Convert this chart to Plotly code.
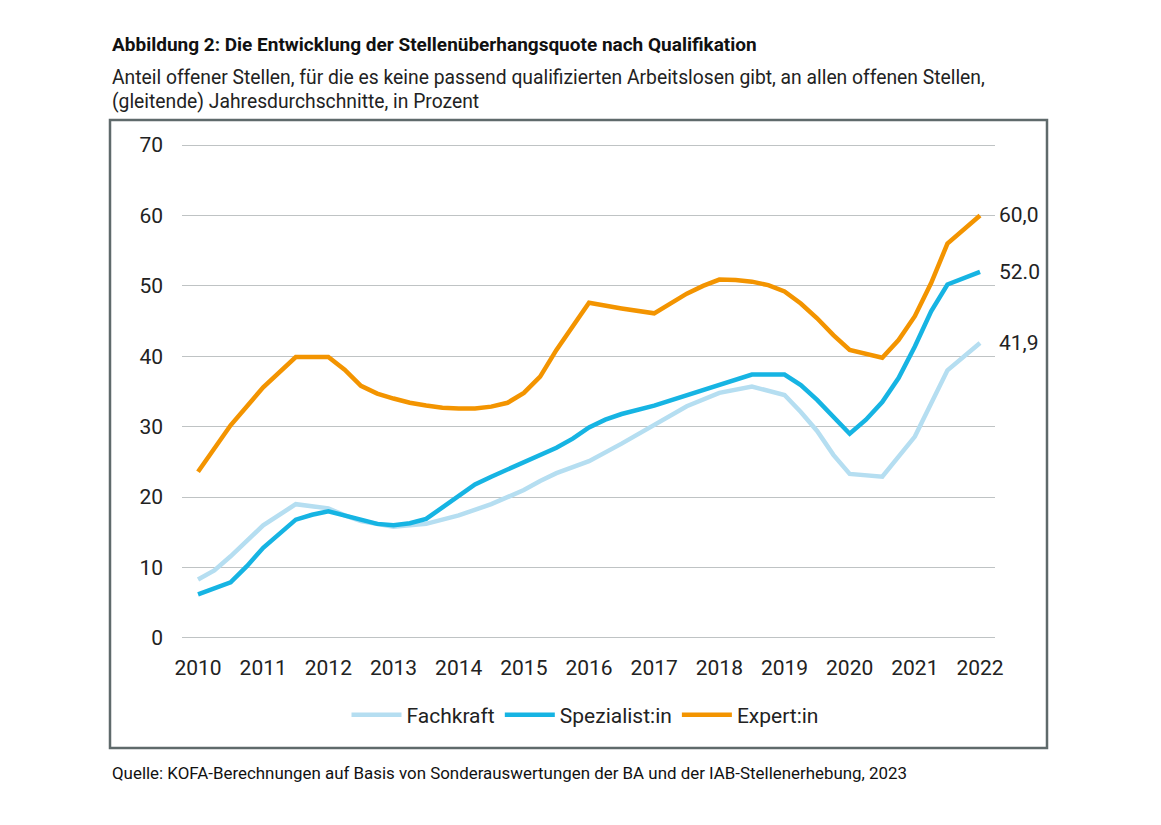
#!/usr/bin/env python3

"""
Stellenüberhangsquote nach Qualifikation, 2010-2022.
"""

import plotly.graph_objects as go

# Quartalspunkte
fach_x = [2010, 2010.25, 2010.5, 2011, 2011.5, 2012, 2012.25, 2012.5, 2013, 2013.5,
          2014, 2014.5, 2015, 2015.25, 2015.5, 2016, 2016.5, 2017, 2017.5, 2018,
          2018.5, 2019, 2019.25, 2019.5, 2019.75, 2020, 2020.5, 2021, 2021.5, 2022]
fach_y = [8.3, 9.6, 11.6, 16.0, 19.0, 18.4, 17.4, 16.6, 15.8, 16.2,
          17.4, 19.0, 21.0, 22.3, 23.4, 25.1, 27.6, 30.3, 32.9, 34.8,
          35.7, 34.5, 32.1, 29.4, 26.0, 23.3, 22.9, 28.6, 38.0, 41.9]

spez_x = [2010, 2010.5, 2010.75, 2011, 2011.5, 2011.75, 2012, 2012.25, 2012.5, 2012.75,
          2013, 2013.25, 2013.5, 2014, 2014.25, 2014.5, 2014.75, 2015, 2015.25, 2015.5,
          2015.75, 2016, 2016.25, 2016.5, 2017, 2017.5, 2018, 2018.5, 2019, 2019.25,
          2019.5, 2019.75, 2020, 2020.25, 2020.5, 2020.75, 2021, 2021.25, 2021.5, 2022]
spez_y = [6.2, 7.9, 10.2, 12.8, 16.8, 17.5, 18.0, 17.4, 16.7, 16.2,
          16.0, 16.3, 16.9, 20.1, 21.8, 22.9, 23.9, 24.9, 25.9, 27.0,
          28.3, 29.9, 31.0, 31.8, 33.0, 34.5, 36.0, 37.4, 37.4, 35.9,
          33.8, 31.3, 29.0, 31.0, 33.5, 36.9, 41.4, 46.4, 50.2, 52.0]

expert_x = [2010, 2010.5, 2011, 2011.5, 2012, 2012.25, 2012.5, 2012.75, 2013, 2013.25,
            2013.5, 2013.75, 2014, 2014.25, 2014.5, 2014.75, 2015, 2015.25, 2015.5, 2016,
            2016.5, 2017, 2017.5, 2017.75, 2018, 2018.25, 2018.5, 2018.75, 2019, 2019.25,
            2019.5, 2019.75, 2020, 2020.5, 2020.75, 2021, 2021.25, 2021.5, 2022]
expert_y = [23.6, 30.2, 35.6, 39.9, 39.9, 38.1, 35.8, 34.7, 34.0, 33.4,
            33.0, 32.7, 32.6, 32.6, 32.85, 33.4, 34.8, 37.1, 40.9, 47.6,
            46.8, 46.1, 48.9, 50.0, 50.9, 50.85, 50.6, 50.1, 49.2, 47.5,
            45.4, 43.0, 40.9, 39.8, 42.3, 45.7, 50.4, 56.0, 60.0]

end_labels = ["41,9", "52.0", "60,0"]
year_ticks = list(range(2010, 2023))
y_ticks = [0, 10, 20, 30, 40, 50, 60, 70]

TITLE = "Abbildung 2: Die Entwicklung der Stellenüberhangsquote nach Qualifikation"
SUB1 = "Anteil offener Stellen, für die es keine passend qualifizierten Arbeitslosen gibt, an allen offenen Stellen,"
SUB2 = "(gleitende) Jahresdurchschnitte, in Prozent"
SOURCE = "Quelle: KOFA-Berechnungen auf Basis von Sonderauswertungen der BA und der IAB-Stellenerhebung, 2023"

W, H = 1161, 825
OFF = 8  # page margin of the browser body
ML, MR, MT, MB = 182 - OFF, 166 + OFF, 138 - OFF, 180 + OFF
PW = W - ML - MR
PH = H - MT - MB
FONT = "Roboto"
TEXT = "#222222"


def px(x):
    return (x - OFF - ML) / PW


def py(y):
    return (H - MB - (y - OFF)) / PH


series = [
    ("Fachkraft", fach_x, fach_y, "#b5def1"),
    ("Spezialist:in", spez_x, spez_y, "#16b4e3"),
    ("Expert:in", expert_x, expert_y, "#f39400"),
]

fig = go.Figure()
for (name, xs, ys, color), label in zip(series, end_labels):
    fig.add_trace(go.Scatter(x=xs, y=ys, mode="lines", name=name,
                             line=dict(color=color, width=4.5)))
    fig.add_annotation(x=xs[-1], y=ys[-1], text=label, showarrow=False,
                       xanchor="left", yanchor="middle", xshift=17,
                       font=dict(family=FONT, size=21, color=TEXT))

fig.add_annotation(x=px(110), y=py(45), xref="paper", yref="paper", text=f"<b>{TITLE}</b>",
                   showarrow=False, xanchor="left", yanchor="middle",
                   font=dict(family=FONT, size=19, color="#111111"))
fig.add_annotation(x=px(110), y=py(77), xref="paper", yref="paper", text=SUB1,
                   showarrow=False, xanchor="left", yanchor="middle",
                   font=dict(family=FONT, size=19.3, color=TEXT))
fig.add_annotation(x=px(110), y=py(101), xref="paper", yref="paper", text=SUB2,
                   showarrow=False, xanchor="left", yanchor="middle",
                   font=dict(family=FONT, size=19.3, color=TEXT))
fig.add_annotation(x=px(110), y=py(773), xref="paper", yref="paper", text=SOURCE,
                   showarrow=False, xanchor="left", yanchor="middle",
                   font=dict(family=FONT, size=16.9, color="#111111"))

# Rahmen um das Diagramm
fig.add_shape(type="rect", xref="paper", yref="paper",
              x0=px(110), x1=px(1047), y0=py(748), y1=py(120),
              line=dict(color="#5f6a6b", width=2.5), fillcolor="rgba(0,0,0,0)")

fig.update_layout(
    width=W, height=H,
    margin=dict(l=ML, r=MR, t=MT, b=MB),
    paper_bgcolor="white", plot_bgcolor="white",
    font=dict(family=FONT, color=TEXT),
    showlegend=True,
    legend=dict(orientation="h", x=px(585), xanchor="center", y=py(715), yanchor="middle",
                font=dict(family=FONT, size=21, color=TEXT), itemwidth=50,
                traceorder="normal"),
)
fig.update_xaxes(range=[2009.754, 2022.23], tickvals=year_ticks,
                 ticktext=[str(t) for t in year_ticks], showgrid=False, zeroline=False,
                 showline=False, ticks="", ticklabelstandoff=8,
                 tickfont=dict(family=FONT, size=21, color=TEXT))
fig.update_yaxes(range=[-1, 71], tickvals=y_ticks, showgrid=True, gridcolor="#bfc3c4",
                 gridwidth=1.2, zeroline=False, showline=False, ticks="",
                 ticklabelstandoff=18, tickfont=dict(family=FONT, size=21, color=TEXT))

fig.write_html("out.html")
